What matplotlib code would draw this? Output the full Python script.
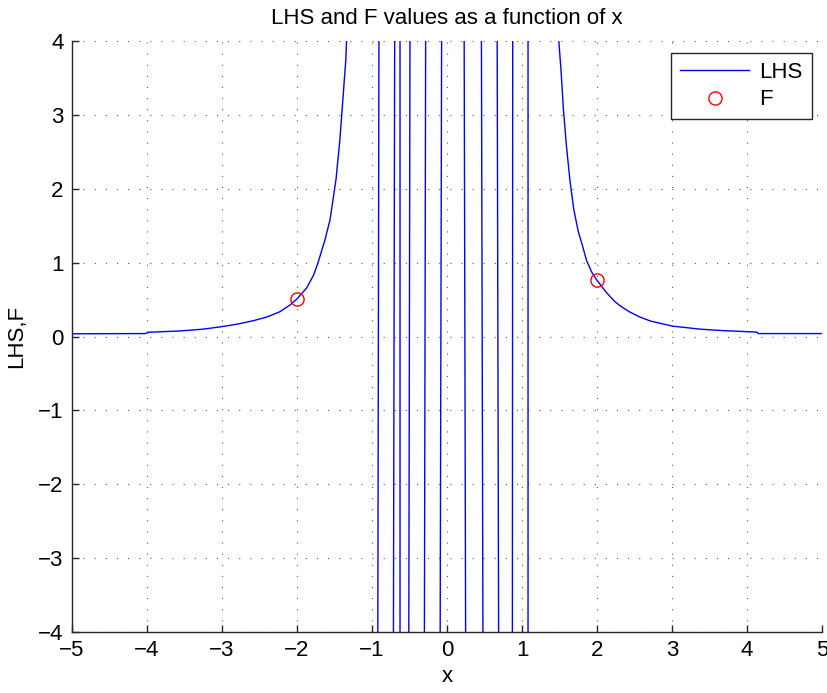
import numpy as np
import matplotlib
matplotlib.use("Agg")
import matplotlib.pyplot as plt

plt.rcParams['font.family'] = ['Liberation Sans', 'DejaVu Sans']

# LHS curve, left branch (x < -1)
left_x = [-5.0, -4.02, -3.98, -3.56, -3.25, -3.03, -2.87, -2.76, -2.58, -2.40,
          -2.23, -2.09, -2.00, -1.87, -1.78, -1.72, -1.63, -1.56, -1.48, -1.43,
          -1.38, -1.35, -1.34, -1.33]
left_y = [0.037, 0.040, 0.058, 0.075, 0.10, 0.13, 0.155, 0.175, 0.215, 0.265,
          0.335, 0.43, 0.51, 0.66, 0.83, 1.00, 1.30, 1.58, 2.13, 2.65,
          3.33, 3.74, 4.00, 4.60]

# LHS curve, steep jumps between the poles in (-1, 1): x where each jump
# leaves the bottom and the top of the plotted range
jump_x_low = [-0.924, -0.716, -0.627, -0.511, -0.303, -0.093, 0.249, 0.480, 0.689, 0.871, 1.080]
jump_x_high = [-0.907, -0.697, -0.627, -0.493, -0.284, -0.071, 0.227, 0.457, 0.667, 0.876, 1.080]
jump_y_low = -4.6
jump_y_high = 4.6

# LHS curve, right branch (x > 1)
right_x = [1.48, 1.49, 1.52, 1.55, 1.59, 1.64, 1.69, 1.75, 1.80, 1.86,
           1.93, 2.00, 2.13, 2.24, 2.33, 2.44, 2.57, 2.71, 2.88, 3.01,
           3.15, 3.37, 3.68, 4.13, 4.15, 5.0]
right_y = [4.60, 4.00, 3.60, 3.10, 2.60, 2.10, 1.72, 1.42, 1.25, 1.03,
           0.87, 0.76, 0.59, 0.47, 0.40, 0.33, 0.265, 0.21, 0.17, 0.14,
           0.125, 0.10, 0.08, 0.06, 0.04, 0.04]

# F values
f_x = [-2.0, 2.0]
f_y = [0.51, 0.77]

# assemble the LHS series, with NaN breaks between pieces
lhs_x = list(left_x) + [np.nan]
lhs_y = list(left_y) + [np.nan]
for xl, xh in zip(jump_x_low, jump_x_high):
    lhs_x += [xl, xh, np.nan]
    lhs_y += [jump_y_low, jump_y_high, np.nan]
lhs_x += list(right_x)
lhs_y += list(right_y)

fig = plt.figure(figsize=(8.28, 6.93), dpi=100)
ax = fig.add_axes([0.087, 0.088, 0.9058, 0.8528])

ax.plot(lhs_x, lhs_y, color=(0, 0, 1), lw=1.0, label='LHS', zorder=3)
ax.plot(f_x, f_y, 'o', mfc='none', mec=(1, 0, 0), ms=9.5, mew=1.0,
        label='F', zorder=4)

ax.set_xlim(-5, 5)
ax.set_ylim(-4, 4)
ax.set_xticks(np.arange(-5, 6, 1))
ax.set_yticks(np.arange(-4, 5, 1))

ax.grid(True, color='0.35', linestyle=(0, (1, 9)), linewidth=0.8)
ax.set_axisbelow(True)

for side in ('top', 'right'):
    ax.spines[side].set_visible(False)
for side in ('left', 'bottom'):
    ax.spines[side].set_color('0.15')
    ax.spines[side].set_linewidth(1.0)
ax.tick_params(direction='in', length=5, width=1.0, color='0.15',
               labelsize=16, pad=6, top=False, right=False)

ax.set_title('LHS and F values as a function of x', fontsize=16, pad=12)
ax.set_xlabel('x', fontsize=16, labelpad=3)
ax.set_ylabel('LHS,F', fontsize=16, labelpad=8)

leg = ax.legend(loc='upper right', bbox_to_anchor=(0.986, 0.980),
                borderaxespad=0, fontsize=16, fancybox=False, framealpha=1,
                edgecolor='0.15', handlelength=3.1, handletextpad=0.45,
                labelspacing=0.3, borderpad=0.4, numpoints=1)
leg.get_frame().set_linewidth(1.0)

fig.savefig('out.png', dpi=100)
